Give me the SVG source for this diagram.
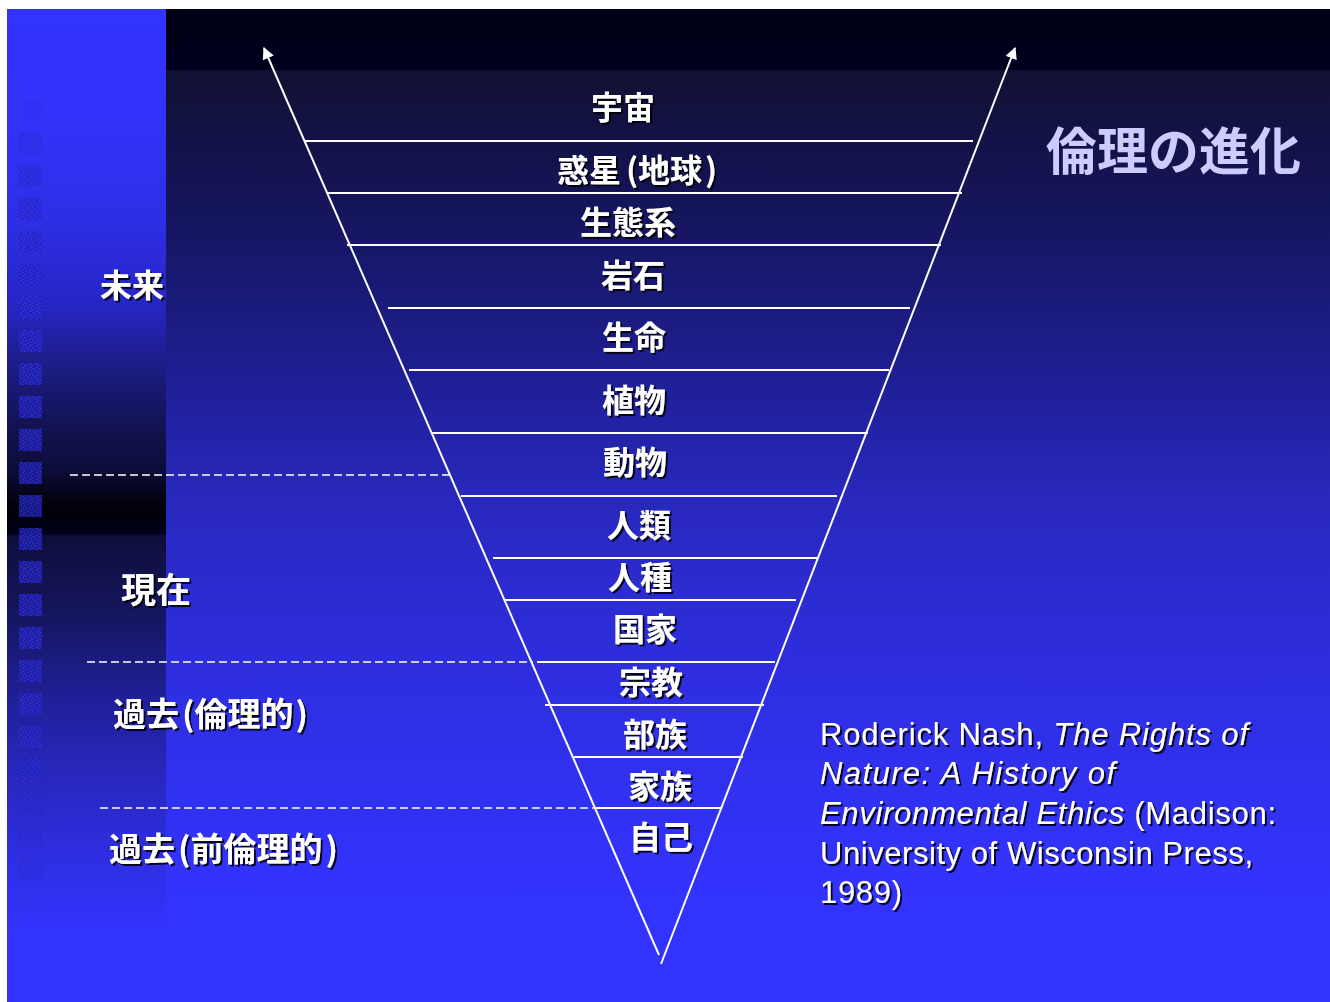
<svg xmlns="http://www.w3.org/2000/svg" width="1330" height="1002" viewBox="0 0 1330 1002">
<defs>
<style>
.cjk{font-family:"Noto Sans CJK JP","Noto Sans CJK SC",sans-serif;font-weight:bold;fill:#fff;filter:url(#sh)}
.lab{font-size:32px;text-anchor:middle}
.side{font-size:33px}
.ref{font-family:"Liberation Sans",Arial,sans-serif;font-size:31px;fill:#fff;filter:url(#sh)}
.h{stroke:#fff;stroke-width:2;fill:none}
.d{stroke:#fff;stroke-width:1.7;stroke-dasharray:8 4;fill:none}
.sq{fill:url(#noise)}
</style>
<filter id="sh" x="-10%" y="-20%" width="130%" height="150%">
<feDropShadow dx="2" dy="2" stdDeviation="0.4" flood-color="#000" flood-opacity="0.85"/>
</filter>
<linearGradient id="gMain" gradientUnits="userSpaceOnUse" x1="0" y1="9" x2="0" y2="1002">
<stop offset="0" stop-color="#000014"/>
<stop offset="0.061" stop-color="#00001e"/>
<stop offset="0.062" stop-color="#111133"/>
<stop offset="0.19" stop-color="#141458"/>
<stop offset="0.29" stop-color="#1a1a78"/>
<stop offset="0.39" stop-color="#20209c"/>
<stop offset="0.49" stop-color="#2828bc"/>
<stop offset="0.6" stop-color="#2c2cd4"/>
<stop offset="0.75" stop-color="#3030ec"/>
<stop offset="0.9" stop-color="#3333ff"/>
<stop offset="1" stop-color="#3333ff"/>
</linearGradient>
<linearGradient id="gLeft" gradientUnits="userSpaceOnUse" x1="0" y1="0" x2="0" y2="1002">
<stop offset="0" stop-color="#3333ff"/>
<stop offset="0.12" stop-color="#3232fa"/>
<stop offset="0.22" stop-color="#2e2ee6"/>
<stop offset="0.3" stop-color="#2626c8"/>
<stop offset="0.38" stop-color="#1a1a78"/>
<stop offset="0.43" stop-color="#121250"/>
<stop offset="0.47" stop-color="#0c0c38"/>
<stop offset="0.5" stop-color="#02020e"/>
<stop offset="0.51" stop-color="#000008"/>
<stop offset="0.532" stop-color="#000018"/>
<stop offset="0.535" stop-color="#0e0e3c"/>
<stop offset="0.6" stop-color="#141458"/>
<stop offset="0.7" stop-color="#20209a"/>
<stop offset="0.78" stop-color="#2828c0"/>
<stop offset="0.85" stop-color="#2e2ee0"/>
<stop offset="0.93" stop-color="#3333ff"/>
<stop offset="1" stop-color="#3333ff"/>
</linearGradient>
<pattern id="noise" patternUnits="userSpaceOnUse" width="7" height="7">
<rect width="7" height="7" fill="#2626d0"/>
<rect x="0" y="0" width="1" height="1" fill="#4848ff"/>
<rect x="3" y="1" width="1" height="1" fill="#4040f8"/>
<rect x="5" y="2" width="1" height="1" fill="#4545ff"/>
<rect x="1" y="3" width="2" height="1" fill="#3c3cf0"/>
<rect x="4" y="4" width="1" height="1" fill="#4848ff"/>
<rect x="6" y="5" width="1" height="1" fill="#4040f8"/>
<rect x="2" y="6" width="1" height="1" fill="#4848ff"/>
<rect x="2" y="0" width="1" height="1" fill="#12127a"/>
<rect x="6" y="1" width="1" height="1" fill="#14148a"/>
<rect x="0" y="2" width="1" height="1" fill="#10106e"/>
<rect x="4" y="3" width="1" height="1" fill="#14148a"/>
<rect x="1" y="5" width="1" height="1" fill="#10106e"/>
<rect x="5" y="6" width="1" height="1" fill="#14148a"/>
<rect x="3" y="4" width="1" height="1" fill="#181890"/>
<rect x="6" y="3" width="1" height="1" fill="#181890"/>
</pattern>
<marker id="arr" viewBox="0 0 10 10" refX="9" refY="5" markerWidth="6" markerHeight="6" markerUnits="strokeWidth" orient="auto">
<path d="M0,0 L10,5 L0,10 Z" fill="#fff"/>
</marker>
</defs>

<g id="background">
<rect x="0" y="0" width="1330" height="1002" fill="#fff"/>
<rect x="7" y="9" width="1323" height="993" fill="url(#gMain)"/>
<rect x="7" y="9" width="159" height="993" fill="url(#gLeft)"/>
<g id="squares">
<rect class="sq" x="19" y="99" width="23" height="22" opacity="0.12"/>
<rect class="sq" x="19" y="132" width="23" height="22" opacity="0.25"/>
<rect class="sq" x="19" y="165" width="23" height="22" opacity="0.4"/>
<rect class="sq" x="19" y="198" width="23" height="22" opacity="0.5"/>
<rect class="sq" x="19" y="231" width="23" height="22" opacity="0.6"/>
<rect class="sq" x="19" y="264" width="23" height="22" opacity="0.65"/>
<rect class="sq" x="19" y="297" width="23" height="22" opacity="0.7"/>
<rect class="sq" x="19" y="330" width="23" height="22" opacity="0.7"/>
<rect class="sq" x="19" y="363" width="23" height="22" opacity="0.7"/>
<rect class="sq" x="19" y="396" width="23" height="22" opacity="0.7"/>
<rect class="sq" x="19" y="429" width="23" height="22" opacity="0.7"/>
<rect class="sq" x="19" y="462" width="23" height="22" opacity="0.7"/>
<rect class="sq" x="19" y="495" width="23" height="22" opacity="0.7"/>
<rect class="sq" x="19" y="528" width="23" height="22" opacity="0.7"/>
<rect class="sq" x="19" y="561" width="23" height="22" opacity="0.7"/>
<rect class="sq" x="19" y="594" width="23" height="22" opacity="0.7"/>
<rect class="sq" x="19" y="627" width="23" height="22" opacity="0.7"/>
<rect class="sq" x="19" y="660" width="23" height="22" opacity="0.65"/>
<rect class="sq" x="19" y="693" width="23" height="22" opacity="0.6"/>
<rect class="sq" x="19" y="726" width="23" height="22" opacity="0.55"/>
<rect class="sq" x="19" y="759" width="23" height="22" opacity="0.5"/>
<rect class="sq" x="19" y="792" width="23" height="22" opacity="0.42"/>
<rect class="sq" x="19" y="825" width="23" height="22" opacity="0.35"/>
<rect class="sq" x="19" y="858" width="23" height="22" opacity="0.25"/>
<rect class="sq" x="19" y="891" width="23" height="22" opacity="0.12"/>
</g>
</g>

<g id="connectors">
<line class="h" x1="659" y1="955" x2="264" y2="48" marker-end="url(#arr)"/>
<line class="h" x1="661" y1="964" x2="1015" y2="48" marker-end="url(#arr)"/>
<line class="h" x1="304" y1="141" x2="973" y2="141"/>
<line class="h" x1="327" y1="193" x2="962" y2="193"/>
<line class="h" x1="347" y1="245" x2="941" y2="245"/>
<line class="h" x1="388" y1="308" x2="910" y2="308"/>
<line class="h" x1="409" y1="370" x2="889" y2="370"/>
<line class="h" x1="431" y1="433" x2="868" y2="433"/>
<line class="h" x1="461" y1="496" x2="837" y2="496"/>
<line class="h" x1="493" y1="558" x2="817" y2="558"/>
<line class="h" x1="505" y1="600" x2="796" y2="600"/>
<line class="h" x1="537" y1="662" x2="775" y2="662"/>
<line class="h" x1="545" y1="705" x2="764" y2="705"/>
<line class="h" x1="574" y1="757" x2="743" y2="757"/>
<line class="h" x1="596" y1="808" x2="722" y2="808"/>
<line class="d" x1="70" y1="475" x2="451" y2="475"/>
<line class="d" x1="87" y1="662" x2="533" y2="662"/>
<line class="d" x1="100" y1="808" x2="594" y2="808"/>
</g>

<g id="title"><text x="1046" y="170" font-family="Noto Sans CJK JP, Noto Sans CJK SC, sans-serif" font-weight="bold" font-size="51" fill="#ccccff">倫理の進化</text></g>

<g id="n-uchu"><text class="cjk lab" x="623" y="119">宇宙</text></g>
<g id="n-wakusei"><text class="cjk lab" x="637" y="182">惑星<tspan dx="5">(</tspan>地球<tspan dx="3">)</tspan></text></g>
<g id="n-seitaikei"><text class="cjk lab" x="628" y="234">生態系</text></g>
<g id="n-ganseki"><text class="cjk lab" x="633" y="287">岩石</text></g>
<g id="n-seimei"><text class="cjk lab" x="634" y="349">生命</text></g>
<g id="n-shokubutsu"><text class="cjk lab" x="634" y="412">植物</text></g>
<g id="n-doubutsu"><text class="cjk lab" x="635" y="474">動物</text></g>
<g id="n-jinrui"><text class="cjk lab" x="639" y="537">人類</text></g>
<g id="n-jinshu"><text class="cjk lab" x="640" y="589">人種</text></g>
<g id="n-kokka"><text class="cjk lab" x="645" y="641">国家</text></g>
<g id="n-shukyo"><text class="cjk lab" x="651" y="694">宗教</text></g>
<g id="n-buzoku"><text class="cjk lab" x="655" y="746">部族</text></g>
<g id="n-kazoku"><text class="cjk lab" x="660" y="798">家族</text></g>
<g id="n-jiko"><text class="cjk lab" x="661" y="849">自己</text></g>

<g id="side-mirai"><text class="cjk" x="100" y="297" font-size="32">未来</text></g>
<g id="side-genzai"><text class="cjk" x="121" y="603" font-size="35">現在</text></g>
<g id="side-kako1"><text class="cjk side" x="113" y="726">過去<tspan dx="3">(</tspan>倫理的<tspan dx="2">)</tspan></text></g>
<g id="side-kako2"><text class="cjk side" x="109" y="861">過去<tspan dx="3">(</tspan>前倫理的<tspan dx="3">)</tspan></text></g>

<g id="reference">
<text class="ref" x="820" y="745" textLength="428" lengthAdjust="spacing">Roderick Nash, <tspan font-style="italic">The Rights of</tspan></text>
<text class="ref" x="820" y="784" font-style="italic" textLength="295" lengthAdjust="spacing">Nature: A History of</text>
<text class="ref" x="820" y="824" textLength="456" lengthAdjust="spacing"><tspan font-style="italic">Environmental Ethics</tspan> (Madison:</text>
<text class="ref" x="820" y="864" textLength="433" lengthAdjust="spacing">University of Wisconsin Press,</text>
<text class="ref" x="820" y="903" textLength="82" lengthAdjust="spacing">1989)</text>
</g>
</svg>
